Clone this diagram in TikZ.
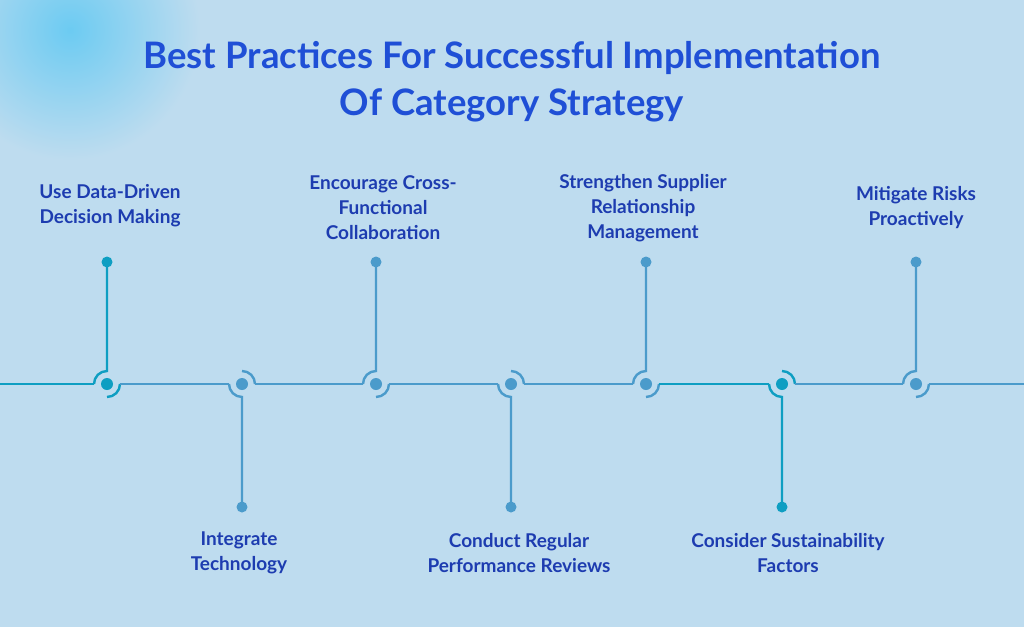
\documentclass[tikz,border=0pt]{standalone}
\usepackage{fontspec}
\setmainfont{Lato}
\usetikzlibrary{positioning}
\definecolor{bgblue}{HTML}{BEDCEF}
\definecolor{glow}{HTML}{6CCBF2}
\definecolor{titleblue}{HTML}{1F4FD6}
\definecolor{labelblue}{HTML}{1D3CB0}
\definecolor{tealline}{HTML}{0E9EC2}
\definecolor{steelline}{HTML}{4B9BCB}
\tikzset{%
  dotnode/.style={circle,fill=#1,inner sep=0pt,minimum size=12pt},
  stepline/.style={line width=2.4pt,#1},
  labeltext/.style={text=labelblue,font=\bfseries\fontsize{19}{25}\selectfont,align=center}
}
\begin{document}
\begin{tikzpicture}[x=1pt,y=-1pt]
\useasboundingbox (0,0) rectangle (1024,627);
\fill[bgblue] (0,0) rectangle (1024,627);
\begin{scope}
\clip (0,0) rectangle (1024,627);
\shade[inner color=glow,outer color=bgblue] (70,30) circle (130);
\end{scope}
% title
\node[text=titleblue,font=\bfseries\fontsize{36.5}{47}\selectfont,align=center] (title) at (512,82)
  {Best Practices For Successful Implementation\\Of Category Strategy};
% junctions along the main line
\foreach \i/\x/\c/\up in {1/107/tealline/1,2/242/steelline/0,3/376/steelline/1,4/511/steelline/0,
                           5/646/steelline/1,6/782/tealline/0,7/916/steelline/1}{
  \ifnum\up=1
    \coordinate (s\i) at (\x,262);
    \draw[stepline=\c] (\x-13,384) arc[start angle=180,end angle=270,radius=13] -- (s\i);
    \draw[stepline=\c] (\x,397) arc[start angle=90,end angle=0,radius=13];
  \else
    \coordinate (s\i) at (\x,507);
    \draw[stepline=\c] (\x-13,384) arc[start angle=180,end angle=90,radius=13] -- (s\i);
    \draw[stepline=\c] (\x,371) arc[start angle=270,end angle=360,radius=13];
  \fi
  \node[dotnode=\c] (d\i) at (\x,384) {};
  \fill[\c] (s\i) circle (5.5);
}
% main line segments
\draw[stepline=tealline] (0,384) -- ([xshift=-7pt]d1.west);
\draw[stepline=steelline] ([xshift=7pt]d1.east) -- ([xshift=-7pt]d2.west);
\draw[stepline=steelline] ([xshift=7pt]d2.east) -- ([xshift=-7pt]d3.west);
\draw[stepline=steelline] ([xshift=7pt]d3.east) -- ([xshift=-7pt]d4.west);
\draw[stepline=steelline] ([xshift=7pt]d4.east) -- ([xshift=-7pt]d5.west);
\draw[stepline=tealline] ([xshift=7pt]d5.east) -- ([xshift=-7pt]d6.west);
\draw[stepline=steelline] ([xshift=7pt]d6.east) -- ([xshift=-7pt]d7.west);
\draw[stepline=steelline] ([xshift=7pt]d7.east) -- (1024,384);
% labels
\node[labeltext] (l1) at (110,206) {Use Data-Driven\\Decision Making};
\node[labeltext] (l3) at (383,208) {Encourage Cross-\\Functional\\Collaboration};
\node[labeltext] (l5) at (643,208) {Strengthen Supplier\\Relationship\\Management};
\node[labeltext] (l7) at (916,208) {Mitigate Risks\\Proactively};
\node[labeltext] (l2) at (239,553) {Integrate\\Technology};
\node[labeltext] (l4) at (519,553) {Conduct Regular\\Performance Reviews};
\node[labeltext] (l6) at (788,553) {Consider Sustainability\\Factors};
\end{tikzpicture}
\end{document}
